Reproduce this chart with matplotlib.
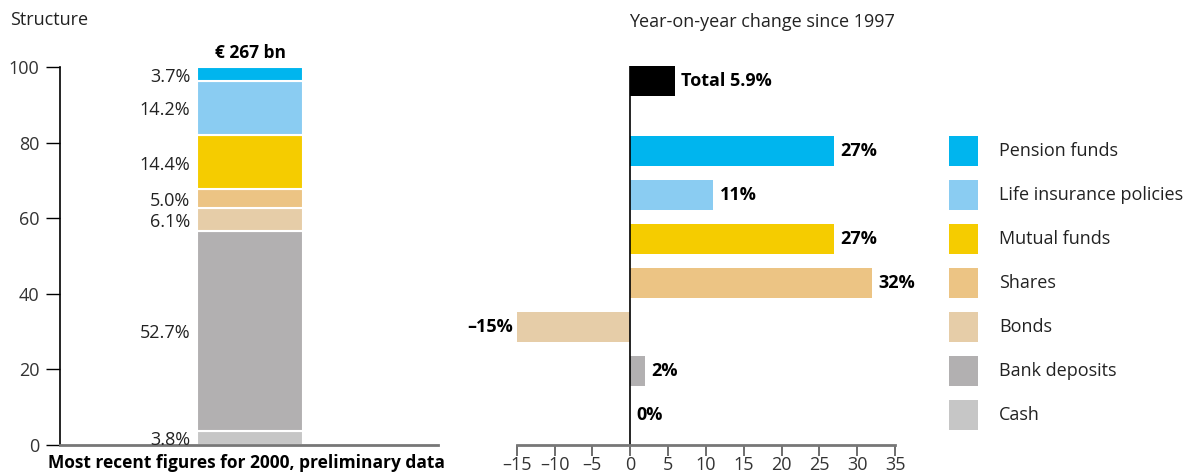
import numpy as np
import matplotlib.pyplot as plt

plt.rcParams['font.family'] = ['Open Sans', 'DejaVu Sans']

# 资产结构（2000年，%），从下到上
categories = ['Cash', 'Bank deposits', 'Bonds', 'Shares', 'Mutual funds',
              'Life insurance policies', 'Pension funds']
structure = [3.8, 52.7, 6.1, 5.0, 14.4, 14.2, 3.7]
structure_labels = ['3.8%', '52.7%', '6.1%', '5.0%', '14.4%', '14.2%', '3.7%']
# 1997年以来的年增长率（%）
change = [0, 2, -15, 32, 27, 11, 27]
change_labels = ['0%', '2%', '\u201315%', '32%', '27%', '11%', '27%']
total_change = 5.9
total_label = 'Total 5.9%'
total_amount = '\u20ac 267 bn'
colors = ['#C6C6C6', '#B2B0B1', '#E6CDA8', '#ECC484', '#F5CC00', '#8ACCF2', '#00B5EE']

W, H = 1192, 475
fig = plt.figure(figsize=(W / 100, H / 100), dpi=100)
txt = '#222222'
fs = 13      # 常规文字
fsb = 12.5   # 粗体文字

# 左图：结构堆积柱
ax1 = fig.add_axes([60 / W, 30 / H, 378 / W, 378 / H])
bottom = 0
for v, c, lab in zip(structure, colors, structure_labels):
    ax1.bar(0.503, v, width=0.28, bottom=bottom, color=c, edgecolor='white', linewidth=1.5)
    ax1.text(0.345, bottom + v / 2 - 0.6, lab, ha='right', va='center', fontsize=fs, color=txt)
    bottom += v
ax1.text(0.503, 103.8, total_amount, ha='center', va='center', fontsize=fsb,
         fontweight='bold', color='black')
ax1.set_xlim(0, 1)
ax1.set_ylim(0, 100)
ax1.set_yticks([0, 20, 40, 60, 80, 100])
ax1.set_xticks([])
ax1.tick_params(axis='y', length=10, width=1, labelsize=fs, labelcolor='#333333', pad=5)
for s in ['top', 'right']:
    ax1.spines[s].set_visible(False)
ax1.spines['left'].set_linewidth(1.2)
ax1.spines['bottom'].set_color('#777777')
ax1.spines['bottom'].set_linewidth(2)
fig.text(10 / W, 1 - 20 / H, 'Structure', ha='left', va='center', fontsize=fs, color=txt)
fig.text(48 / W, 1 - 463 / H, 'Most recent figures for 2000, preliminary data',
         ha='left', va='center', fontsize=fsb, fontweight='bold', color='black')

# 右图：增长率横向条形
pos = np.arange(len(change))
total_pos = 6 + 70 / 44
ylo, yhi = -0.68, total_pos + 0.34
ax2 = fig.add_axes([516.7 / W, 30 / H, 378.3 / W, 379 / H])
ax2.barh(pos, change, height=0.68, color=colors)
ax2.barh(total_pos, total_change, height=0.68, color='black')
for p, v, lab in zip(pos, change, change_labels):
    if v < 0:
        ax2.text(v - 0.5, p, lab, ha='right', va='center', fontsize=fsb + 0.5, fontweight='bold')
    else:
        ax2.text(v + 0.8, p, lab, ha='left', va='center', fontsize=fsb + 0.5, fontweight='bold')
ax2.text(total_change + 0.8, total_pos, total_label, ha='left', va='center',
         fontsize=fsb + 0.5, fontweight='bold')
ax2.axvline(0, color='black', linewidth=1.2)
ax2.set_xlim(-15, 35)
ax2.set_ylim(ylo, yhi)
ax2.set_xticks(range(-15, 40, 5))
ax2.set_xticklabels([str(t).replace('-', '\u2013') for t in range(-15, 40, 5)])
ax2.set_yticks([])
ax2.tick_params(axis='x', length=8, width=1.2, color='#555555', labelsize=fs,
                labelcolor='#333333', pad=0)
for s in ['top', 'right', 'left']:
    ax2.spines[s].set_visible(False)
ax2.spines['bottom'].set_color('#777777')
ax2.spines['bottom'].set_linewidth(2)
fig.text(629 / W, 1 - 22 / H, 'Year-on-year change since 1997', ha='left', va='center',
         fontsize=fs, color=txt)

# 图例
ax3 = fig.add_axes([940 / W, 30 / H, 252 / W, 379 / H])
ax3.barh(pos, 29, left=9, height=0.68, color=colors)
for p, name in zip(pos, categories):
    ax3.text(59, p, name, ha='left', va='center', fontsize=fs, color=txt)
ax3.set_xlim(0, 252)
ax3.set_ylim(ylo, yhi)
ax3.axis('off')

fig.savefig('out.png', dpi=100)
